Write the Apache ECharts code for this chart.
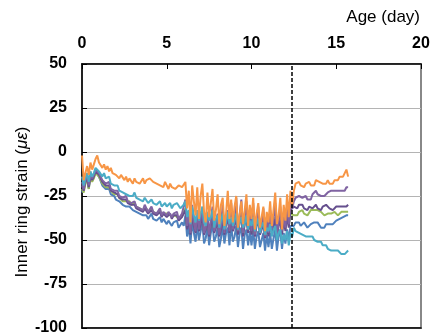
<!DOCTYPE html>
<html>
<head>
<meta charset="utf-8">
<script src="https://cdn.jsdelivr.net/npm/echarts@6/dist/echarts.min.js"></script>
<style>
  html, body { margin: 0; padding: 0; background: #fff; }
  #strain-chart { width: 434px; height: 336px; }
</style>
</head>
<body>
<div id="strain-chart"></div>
<script>
// sample spacing of the two logging periods (days)
const startA = 0, stepA = 0.1
const startB = 12.5, stepB = 0.1
const crackAge = 12.4

// first period, 0 .. 12.4 d
const orangeA = [-2, -16, -12, -8, -13, -6, -10, -7, -4, -2,
  -6, -5, -9, -7, -10, -8, -11, -9, -12, -11,
  -13, -12, -15, -13, -14, -16, -14, -17, -15, -16,
  -18, -15, -17, -16, -18, -17, -15, -18, -16, -17,
  -15, -14, -17, -16, -18, -17, -19, -18, -20, -17,
  -19, -21, -18, -20, -19, -21, -20, -19, -18, -20,
  -21, -17, -32, -22, -40, -19, -28, -36, -20, -38,
  -25, -18, -34, -40, -23, -37, -29, -21, -39, -33,
  -24, -41, -30, -26, -42, -35, -22, -38, -27, -40,
  -31, -25, -43, -36, -28, -41, -33, -24, -42, -30,
  -38, -26, -44, -35, -29, -43, -37, -31, -45, -34,
  -40, -28, -42, -33, -23, -41, -36, -26, -44, -30,
  -39, -24, -37, -22, -30]
const purpleA = [-17, -21, -16, -13, -19, -12, -15, -13, -10, -9,
  -12, -13, -16, -15, -18, -19, -17, -21, -20, -22,
  -23, -22, -25, -24, -26, -27, -25, -28, -27, -29,
  -30, -28, -31, -30, -32, -31, -33, -30, -32, -34,
  -33, -31, -34, -33, -35, -34, -32, -36, -34, -35,
  -36, -34, -33, -37, -35, -36, -34, -38, -37, -35,
  -36, -27, -42, -35, -46, -30, -40, -45, -33, -44,
  -38, -32, -46, -43, -34, -47, -39, -31, -45, -41,
  -35, -47, -42, -30, -46, -38, -33, -45, -29, -44,
  -40, -26, -45, -36, -27, -46, -38, -28, -44, -33,
  -45, -29, -47, -39, -31, -46, -42, -32, -48, -37,
  -46, -33, -44, -38, -29, -47, -40, -31, -45, -35,
  -43, -30, -41, -27, -32]
const darkPurpleA = [-19, -22, -17, -15, -20, -14, -16, -14, -11, -10,
  -13, -14, -17, -16, -19, -20, -19, -22, -21, -23,
  -24, -24, -26, -25, -27, -28, -27, -29, -28, -30,
  -31, -30, -32, -31, -33, -32, -34, -32, -33, -35,
  -34, -33, -35, -34, -36, -35, -34, -37, -35, -36,
  -37, -36, -35, -38, -36, -37, -36, -39, -38, -37,
  -38, -33, -44, -38, -47, -35, -42, -46, -37, -45,
  -41, -36, -47, -44, -38, -48, -42, -37, -46, -43,
  -39, -48, -44, -37, -47, -41, -38, -46, -36, -45,
  -42, -37, -47, -40, -36, -48, -41, -38, -46, -39,
  -47, -38, -48, -42, -39, -47, -44, -40, -49, -41,
  -48, -40, -47, -43, -38, -49, -42, -39, -47, -38,
  -45, -36, -43, -33, -32]
const greenA = [-21, -23, -18, -16, -21, -14, -17, -15, -12, -11,
  -14, -15, -18, -17, -20, -21, -20, -22, -22, -24,
  -25, -24, -26, -26, -28, -27, -28, -29, -28, -30,
  -30, -29, -31, -31, -32, -31, -33, -32, -32, -34,
  -33, -32, -34, -34, -35, -34, -33, -36, -35, -35,
  -36, -35, -35, -37, -36, -36, -35, -38, -37, -36,
  -37, -32, -43, -37, -46, -34, -41, -45, -36, -44,
  -40, -35, -46, -43, -37, -47, -41, -36, -45, -42,
  -38, -47, -43, -36, -46, -40, -37, -45, -35, -44,
  -41, -36, -46, -39, -35, -47, -40, -37, -45, -38,
  -46, -37, -47, -41, -38, -46, -43, -39, -48, -40,
  -47, -39, -46, -42, -37, -48, -41, -38, -46, -37,
  -44, -36, -42, -35, -36]
const blueA = [-23, -20, -17, -14, -21, -13, -16, -14, -11, -10,
  -14, -15, -19, -18, -21, -22, -21, -24, -23, -25,
  -27, -26, -28, -28, -30, -29, -31, -30, -31, -32,
  -33, -32, -34, -33, -35, -34, -36, -35, -36, -38,
  -37, -35, -38, -37, -39, -38, -37, -40, -38, -39,
  -41, -39, -38, -42, -40, -41, -39, -43, -42, -40,
  -42, -36, -48, -42, -52, -39, -46, -51, -41, -50,
  -45, -40, -52, -49, -42, -53, -46, -41, -51, -48,
  -43, -54, -49, -42, -52, -46, -43, -53, -41, -51,
  -48, -42, -54, -46, -43, -55, -47, -44, -53, -45,
  -53, -44, -55, -48, -45, -54, -50, -46, -56, -47,
  -54, -46, -55, -49, -44, -56, -48, -45, -55, -46,
  -52, -44, -50, -42, -41]
const cyanA = [-14, -19, -15, -12, -17, -11, -14, -12, -9, -8,
  -11, -10, -14, -12, -15, -16, -14, -18, -17, -19,
  -20, -19, -22, -21, -23, -22, -24, -23, -25, -24,
  -25, -23, -26, -25, -27, -26, -28, -26, -27, -29,
  -28, -27, -29, -28, -30, -29, -28, -31, -30, -29,
  -31, -30, -29, -32, -30, -31, -29, -30, -32, -31,
  -30, -28, -37, -33, -41, -31, -36, -40, -33, -39,
  -35, -31, -40, -42, -34, -39, -37, -33, -43, -38,
  -36, -43, -39, -35, -44, -40, -34, -41, -37, -42,
  -39, -35, -44, -40, -37, -43, -41, -36, -44, -39,
  -42, -37, -45, -41, -38, -46, -42, -40, -47, -43,
  -45, -41, -48, -44, -42, -50, -46, -44, -52, -47,
  -50, -45, -53, -46, -48]

// second period, 12.5 .. 15.7 d
const orangeB = [-22, -18, -19, -17, -19, -18, -20, -18, -19, -17, -19, -18, -19, -16, -15, -17, -16, -18, -17, -18,
  -16, -18, -17, -18, -16, -15, -16, -14, -15, -14, -15, -10, -14]
const purpleB = [-28, -26, -27, -25, -24, -26, -27, -25, -27, -26, -27, -24, -23, -22, -24, -23, -25, -24, -25, -24,
  -23, -24, -22, -23, -22, -23, -22, -23, -22, -21, -22, -20, -20]
const darkPurpleB = [-31, -30, -32, -30, -31, -30, -32, -31, -33, -31, -30, -32, -31, -30, -32, -31, -33, -31, -32, -30,
  -31, -32, -31, -33, -32, -31, -32, -31, -32, -31, -32, -31, -30]
const greenB = [-36, -35, -36, -34, -35, -33, -35, -34, -36, -35, -33, -32, -33, -32, -33, -32, -34, -35, -36, -37,
  -35, -36, -35, -36, -34, -35, -36, -35, -34, -35, -34, -33, -34]
const blueB = [-42, -40, -41, -40, -42, -41, -40, -41, -43, -42, -41, -42, -40, -39, -40, -41, -43, -42, -43, -41,
  -42, -41, -40, -41, -40, -39, -40, -38, -39, -37, -38, -36, -36]
const cyanB = [-43, -45, -44, -46, -45, -47, -46, -48, -47, -48, -49, -48, -50, -49, -51, -52, -51, -53, -54, -53,
  -55, -54, -56, -55, -56, -57, -56, -57, -58, -57, -58, -57, -56]

const xTicks = [0, 5, 10, 15, 20]
const yTicks = [-100, -75, -50, -25, 0, 25, 50]

function toPoints (a, b) {
  const pts = a.map((v, i) => [+(startA + i * stepA).toFixed(2), v])
  return pts.concat(b.map((v, i) => [+(startB + i * stepB).toFixed(2), v]))
}

const font = '"Liberation Sans", Arial, sans-serif'
const chart = echarts.init(document.getElementById('strain-chart'))

const lines = [
  { name: 'blue', color: '#4F81BD', a: blueA, b: blueB },
  { name: 'green', color: '#9BBB59', a: greenA, b: greenB },
  { name: 'darkPurple', color: '#654F8E', a: darkPurpleA, b: darkPurpleB },
  { name: 'purple', color: '#8064A2', a: purpleA, b: purpleB },
  { name: 'cyan', color: '#4BACC6', a: cyanA, b: cyanB },
  { name: 'orange', color: '#F79646', a: orangeA, b: orangeB }
]

const series = lines.map(l => ({
  name: l.name,
  type: 'line',
  showSymbol: false,
  symbol: 'none',
  lineStyle: { color: l.color, width: 2 },
  itemStyle: { color: l.color },
  data: toPoints(l.a, l.b)
}))

series.push({
  type: 'line',
  data: [],
  markLine: {
    silent: true,
    symbol: 'none',
    label: { show: false },
    lineStyle: { color: '#000', type: [4, 2], width: 1.5 },
    data: [{ xAxis: crackAge }]
  }
})

const option = {
  animation: false,
  title: {
    text: 'Age (day)',
    right: 9,
    top: 4,
    textStyle: { fontSize: 17, fontWeight: 'normal', fontFamily: font, color: '#000' }
  },
  grid: { left: 82, right: 13, top: 64, bottom: 6, show: true, borderColor: '#888', borderWidth: 2 },
  xAxis: [{
    type: 'value',
    position: 'top',
    min: xTicks[0],
    max: xTicks[xTicks.length - 1],
    interval: 5,
    axisLine: { show: true, onZero: false, lineStyle: { color: '#000', width: 1.5 } },
    axisTick: { show: true, inside: true, length: 5, lineStyle: { color: '#000' } },
    axisLabel: {
      margin: 12,
      hideOverlap: false,
      color: '#000',
      fontWeight: 'bold',
      fontSize: 16,
      fontFamily: font
    },
    splitLine: { show: false }
  }, {
    // plain black frame line along the bottom
    type: 'value',
    position: 'bottom',
    min: 0,
    max: 20,
    interval: 5,
    axisLine: { show: true, onZero: false, lineStyle: { color: '#000', width: 1.5 } },
    axisTick: { show: false },
    axisLabel: { show: false },
    splitLine: { show: false }
  }],
  yAxis: {
    type: 'value',
    min: yTicks[0],
    max: yTicks[yTicks.length - 1],
    interval: 25,
    name: '{n|Inner ring strain (}{i|με}{e|)}',
    nameLocation: 'middle',
    nameGap: 51,
    nameRotate: 90,
    nameMoveOverlap: false,
    nameTextStyle: {
      rich: {
        n: { fontSize: 17, fontFamily: font, color: '#000' },
        i: { fontSize: 17, fontFamily: font, color: '#000', fontStyle: 'italic' },
        e: { fontSize: 17, fontFamily: font, color: '#000', padding: [0, 12, 0, 0] }
      }
    },
    axisLine: { show: true, onZero: false, lineStyle: { color: '#000', width: 1.5 } },
    axisTick: { show: true, inside: true, length: 5, lineStyle: { color: '#000' } },
    axisLabel: { margin: 15, hideOverlap: false, color: '#000', fontWeight: 'bold', fontSize: 16, fontFamily: font },
    splitLine: { show: true, lineStyle: { color: '#b4b4b4', width: 1 } }
  },
  series: series
}

chart.setOption(option)
</script>
</body>
</html>
